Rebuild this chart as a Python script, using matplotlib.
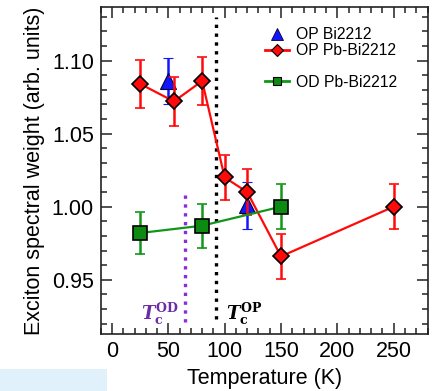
import matplotlib
matplotlib.use("Agg")
import matplotlib.pyplot as plt
from matplotlib.lines import Line2D
from matplotlib.patches import Rectangle

plt.rcParams['font.family'] = ['Liberation Sans', 'DejaVu Sans']
plt.rcParams['mathtext.fontset'] = 'custom'
plt.rcParams['mathtext.it'] = 'DejaVu Serif:italic:bold'
plt.rcParams['mathtext.rm'] = 'DejaVu Serif:bold'
plt.rcParams['mathtext.bf'] = 'DejaVu Serif:bold'

# ---- data ----
op_bi_T = [50, 120]
op_bi_w = [1.086, 1.001]
op_bi_err = [0.016, 0.016]

op_pb_T = [25, 55, 80, 100, 120, 150, 250]
op_pb_w = [1.084, 1.072, 1.086, 1.020, 1.010, 0.966, 1.000]
op_pb_err = [0.0165, 0.017, 0.0165, 0.0155, 0.0155, 0.0155, 0.0155]

od_pb_T = [25, 80, 150]
od_pb_w = [0.982, 0.987, 1.000]
od_pb_err = [0.0145, 0.015, 0.0152]

tc_op = 92
tc_od = 65
tc_op_span = [0.923, 1.130]
tc_od_span = [0.921, 1.009]

xticks = [0, 50, 100, 150, 200, 250]
yticks = [0.95, 1.00, 1.05, 1.10]
ytick_labels = ['0.95', '1.00', '1.05', '1.10']

red = '#ff0a0a'
blue = '#1414ff'
green = '#12961a'
green_fill = '#0d8a12'
purple_line = '#8a2be2'
purple_text = '#6a2da6'

fig = plt.figure(figsize=(4.34, 3.91), dpi=100)
ax = fig.add_axes([100.7/434, 1 - 334.3/391, (427.5-100.7)/434, (334.3-7)/391])

fig.patches.append(Rectangle((0, 0), 107/434, 22/391, transform=fig.transFigure,
                             facecolor='#e0f1fc', edgecolor='none', zorder=0))

# Tc lines
ax.plot([tc_od, tc_od], tc_od_span, ls=':', color=purple_line, lw=2.4, zorder=1)
ax.plot([tc_op, tc_op], tc_op_span, ls=':', color='black', lw=2.4, zorder=1)

# OP Bi2212
ax.errorbar(op_bi_T, op_bi_w, yerr=op_bi_err, fmt='^', color=blue, mfc=blue,
            mec='#000033', mew=0.8, ms=12, elinewidth=1.8, capsize=3.6,
            capthick=1.8, zorder=3)
# OP Pb-Bi2212
ax.errorbar(op_pb_T, op_pb_w, yerr=op_pb_err, fmt='-D', color=red, mfc=red,
            mec='black', mew=1.2, ms=8.6, lw=1.6, elinewidth=1.8, capsize=3.6,
            capthick=1.8, zorder=4)
# OD Pb-Bi2212
ax.errorbar(od_pb_T, od_pb_w, yerr=od_pb_err, fmt='-s', color=green, mfc=green_fill,
            mec='black', mew=1.2, ms=9.6, lw=1.6, elinewidth=1.8, capsize=3.6,
            capthick=1.8, zorder=5)

ax.text(25.5, 0.9225, r'$T_\mathrm{c}^\mathrm{OD}$', color=purple_text, fontsize=13)
ax.text(101, 0.9225, r'$T_\mathrm{c}^\mathrm{OP}$', color='black', fontsize=13)

ax.set_xlim(-10, 280)
ax.set_ylim(0.9127, 1.1366)
ax.set_xticks(xticks)
ax.set_xticks(range(-10, 281, 10), minor=True)
ax.set_yticks(yticks)
ax.set_yticklabels(ytick_labels)
ax.set_yticks([0.92 + 0.01*i for i in range(22)], minor=True)
ax.tick_params(which='both', direction='in', top=True, right=True, width=1.1,
               color='#222222')
ax.tick_params(which='major', length=8, labelsize=15.5, pad=5)
ax.tick_params(which='minor', length=4.5)
for s in ax.spines.values():
    s.set_linewidth(1.2)
    s.set_color('#222222')

ax.set_xlabel('Temperature (K)', fontsize=15.5, labelpad=4)
ax.set_ylabel('Exciton spectral weight (arb. units)', fontsize=15.5, labelpad=5)

handles = [
    Line2D([], [], ls='none', marker='^', color=blue, mec='#000033', mew=0.6, ms=8),
    Line2D([], [], ls='-', marker='D', color=red, mfc=red, mec='black', mew=0.8, ms=6, lw=2),
    Line2D([], [], ls='none', marker=None, color='none'),
    Line2D([], [], ls='-', marker='s', color=green, mfc=green_fill, mec='black', mew=0.8, ms=6, lw=2),
]
labels = ['OP Bi2212', 'OP Pb-Bi2212', ' ', 'OD Pb-Bi2212']
ax.legend(handles, labels, loc='upper left', bbox_to_anchor=(0.503, 0.938),
          frameon=False, fontsize=11.3, borderpad=0, borderaxespad=0,
          handlelength=1.5, handletextpad=0.45, labelspacing=0.05)

fig.savefig('out.png', dpi=100)
